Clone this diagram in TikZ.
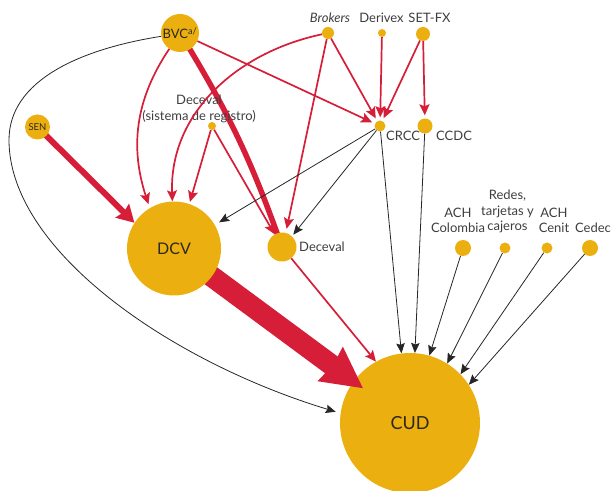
\documentclass[tikz,border=0pt]{standalone}
\usepackage{fontspec}
\setmainfont{Lato}
\usetikzlibrary{arrows.meta}

\definecolor{gold}{RGB}{235,176,16}
\definecolor{flowred}{RGB}{214,30,56}
\definecolor{labelgray}{RGB}{62,62,62}
\definecolor{hubtext}{RGB}{45,40,30}

\pgfdeclarelayer{bg}
\pgfsetlayers{bg,main}

\begin{document}
\begin{tikzpicture}[x=1pt,y=1pt,
  hub/.style={circle, fill=gold, inner sep=0pt, minimum size=#1, text=hubtext},
  lbl/.style={text=labelgray, font=\fontsize{13}{15.5}\selectfont, align=center, inner sep=0pt},
  redflow/.style={draw=flowred, line width=1.7pt, -{Stealth[length=11pt,width=10pt,inset=2pt]}},
  blackflow/.style={draw=black!85, line width=0.8pt, -{Stealth[length=10pt,width=8.5pt,inset=1.5pt]}},
]
\useasboundingbox (0,0) rectangle (613,490);

% ---- institutions (circle size ~ relevance) ----
\node[hub=38pt, font=\fontsize{13}{15}\selectfont] (bvc) at (180,457) {BVC\textsuperscript{a/}};
\node[hub=12pt] (brokers) at (328,457) {};
\node[hub=8pt]  (derivex) at (382,457) {};
\node[hub=14pt] (setfx)   at (423,456) {};
\node[hub=11pt] (crcc)    at (380,364) {};
\node[hub=15pt] (ccdc)    at (425,364) {};
\node[hub=8pt]  (decsist) at (212,364) {};
\node[hub=25pt, font=\fontsize{9.5}{11}\selectfont] (sen) at (37.5,363) {SEN};
\node[hub=94pt, font=\fontsize{16}{18}\selectfont] (dcv) at (174,241.5) {DCV};
\node[hub=29pt] (deceval) at (282,243) {};
\node[hub=16pt] (achcol)  at (463,242) {};
\node[hub=11pt] (redes)   at (505,242) {};
\node[hub=11pt] (cenit)   at (547,242) {};
\node[hub=16pt] (cedec)   at (590,242) {};

% ---- labels ----
\node[lbl] (brokers-l) at (330,472) {\itshape Brokers};
\node[lbl] (derivex-l) at (381.5,472) {Derivex};
\node[lbl] (setfx-l)   at (429.5,472) {SET-FX};
\node[lbl, anchor=west] (crcc-l) at (386,354) {CRCC};
\node[lbl, anchor=west] (ccdc-l) at (436,354) {CCDC};
\node[lbl] (decsist-l) at (199,381) {Deceval\\(sistema de registro)};
\node[lbl, anchor=west] (deceval-l) at (299,243) {Deceval};
\node[lbl] (achcol-l) at (458,269.5) {ACH\\Colombia};
\node[lbl] (redes-l)  at (507.5,278.5) {Redes,\\tarjetas y\\cajeros};
\node[lbl] (cenit-l)  at (554,269.5) {ACH\\Cenit};
\node[lbl] (cedec-l)  at (593,262) {Cedec};

% ---- heavy flows, painted beneath the circles ----
\begin{pgfonlayer}{bg}
  \node[hub=140pt, font=\fontsize{18}{20}\selectfont] (cud) at (410,67) {CUD};
  \draw[flowred, line width=21pt, -{Stealth[length=40pt,width=40pt,inset=2pt]}, shorten >=-12pt]
    (dcv.center) -- (cud);
  \draw[flowred, line width=6pt, -{Stealth[length=17pt,width=19pt,inset=2pt]}]
    (sen.center) -- (dcv.147);
  \draw[flowred, line width=5.5pt] (bvc.center) to[bend left=6] (deceval.center);
\end{pgfonlayer}

% ---- red flows ----
\draw[redflow, shorten >=4pt] (bvc) to[out=236,in=108] (dcv.121);
\draw[redflow] (brokers) to[out=192,in=92] (dcv.92);
\draw[redflow, shorten >=2pt] (decsist) -- (dcv.71);
\draw[redflow] (decsist) -- (deceval);
\draw[redflow, shorten >=4pt] (brokers) -- (deceval.75);
\draw[redflow, shorten >=3pt] (bvc) -- (crcc);
\draw[redflow, shorten >=3pt] (brokers) -- (crcc);
\draw[redflow, shorten >=3pt] (derivex) -- (crcc);
\draw[redflow, shorten >=3pt] (setfx) -- (crcc);
\draw[redflow, shorten >=3pt] (setfx) -- (ccdc);
\draw[redflow] (deceval) -- (cud.119);

% ---- black flows ----
\coordinate (loopleft) at (9,350);
\draw[blackflow, shorten >=5pt] (bvc.190) .. controls (81,441) and (9,410) .. (loopleft)
  .. controls (9,240) and (170,128.5) .. (cud.172);
\draw[blackflow, shorten >=5pt] (crcc) -- (dcv.30);
\draw[blackflow, shorten >=2pt] (crcc) -- (deceval.47);
\draw[blackflow] (crcc) -- (cud.97);
\draw[blackflow] (ccdc) -- (cud.86);
\draw[blackflow] (achcol) -- (cud.74);
\draw[blackflow] (redes) -- (cud.58);
\draw[blackflow] (cenit) -- (cud.44);
\draw[blackflow] (cedec) -- (cud.33);
\end{tikzpicture}
\end{document}
